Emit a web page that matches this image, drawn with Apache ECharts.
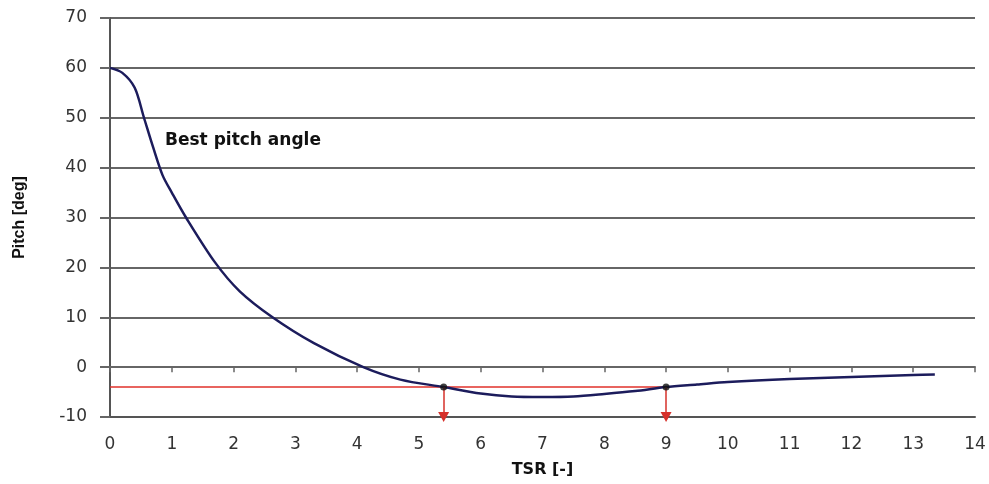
<!DOCTYPE html>
<html>
<head>
<meta charset="utf-8">
<script src="https://cdn.jsdelivr.net/npm/echarts@6/dist/echarts.min.js"></script>
<style>html,body{margin:0;padding:0;background:#fff}#c{width:989px;height:484px}</style>
</head>
<body>
<div id="c"></div>
<script>
// Data
var tsr   = [0, 0.2, 0.4, 0.55, 0.7, 0.85, 1.0, 1.23, 1.7, 2.1, 2.63, 3.3, 4.1, 4.7, 5.4, 6, 6.5, 7, 7.5, 8, 8.5, 9, 9.5, 10, 11, 12, 13, 13.35];
var pitch = [60, 59, 56, 50, 44, 38.5, 35, 30, 21, 15.2, 10, 4.8, 0, -2.5, -4, -5.3, -5.9, -6, -5.9, -5.4, -4.8, -4, -3.5, -3, -2.4, -2, -1.6, -1.5];
var refPitch = -4;          // red horizontal level
var refStartX = 0;
var arrowX = [5.4, 9];      // intersections / arrows
var yMin = -10, yMax = 70, yStep = 10;
var xMin = 0, xMax = 14, xStep = 1;
var annotation = 'Best pitch angle';

var curve = tsr.map(function (x, i) { return [x, pitch[i]]; });
var redLine = [[refStartX, refPitch], [arrowX[arrowX.length - 1], refPitch]];
var dots = arrowX.map(function (x) { return [x, refPitch]; });
var arrows = arrowX.map(function (x) { return [{ coord: [x, refPitch] }, { coord: [x, yMin] }]; });

var font = 'DejaVu Sans';
var chart = echarts.init(document.getElementById('c'));
chart.setOption({
  animation: false,
  backgroundColor: '#fff',
  grid: { left: 110, right: 14, top: 18, bottom: 67 },
  graphic: [{
    type: 'text', left: 165, top: 132,
    style: { text: annotation, font: 'bold 17px "DejaVu Sans"', fill: '#111' }
  }],
  xAxis: [{
    type: 'value', min: xMin, max: xMax, interval: xStep, position: 'bottom',
    axisLine: { onZero: false, lineStyle: { color: '#555', width: 2 } },
    axisTick: { show: false },
    axisLabel: { fontSize: 17, color: '#333', margin: 19, fontFamily: font },
    splitLine: { show: false },
    name: 'TSR [-]', nameLocation: 'middle', nameGap: 45,
    nameTextStyle: { fontSize: 16, fontWeight: 'bold', color: '#111', fontFamily: font }
  }, {
    type: 'value', min: xMin, max: xMax, interval: xStep, position: 'bottom',
    axisLine: { onZero: true, lineStyle: { color: '#666', width: 2 } },
    axisTick: { show: true, length: 5, lineStyle: { color: '#666', width: 1.5 } },
    axisLabel: { show: false },
    splitLine: { show: false }
  }],
  yAxis: {
    type: 'value', min: yMin, max: yMax, interval: yStep,
    axisLine: { show: true, lineStyle: { color: '#555', width: 2 } },
    axisTick: { show: true, length: 10, lineStyle: { color: '#666', width: 2 } },
    axisLabel: { fontSize: 17, color: '#333', margin: 23, fontFamily: font },
    splitLine: { show: true, lineStyle: { color: '#666', width: 2 } },
    name: 'Pitch [deg]', nameLocation: 'middle', nameGap: 82,
    nameTextStyle: { fontSize: 16, fontWeight: 'bold', color: '#111', fontFamily: 'Liberation Sans' }
  },
  series: [{
    type: 'line', data: redLine, xAxisIndex: 0, symbol: 'none',
    lineStyle: { color: '#e0302a', width: 1.5 }, z: 3,
    markLine: {
      silent: true, symbol: ['none', 'triangle'], symbolSize: [11, 10],
      lineStyle: { color: '#d6302a', width: 1.5, type: 'solid' },
      label: { show: false }, data: arrows
    }
  }, {
    type: 'line', data: curve, xAxisIndex: 0, symbol: 'none', smooth: 0.3,
    lineStyle: { color: '#1c1c5c', width: 2.5 }, z: 4
  }, {
    type: 'scatter', data: dots, xAxisIndex: 0, symbol: 'circle', symbolSize: 7,
    itemStyle: { color: '#111' }, z: 5
  }]
});
</script>
</body>
</html>
